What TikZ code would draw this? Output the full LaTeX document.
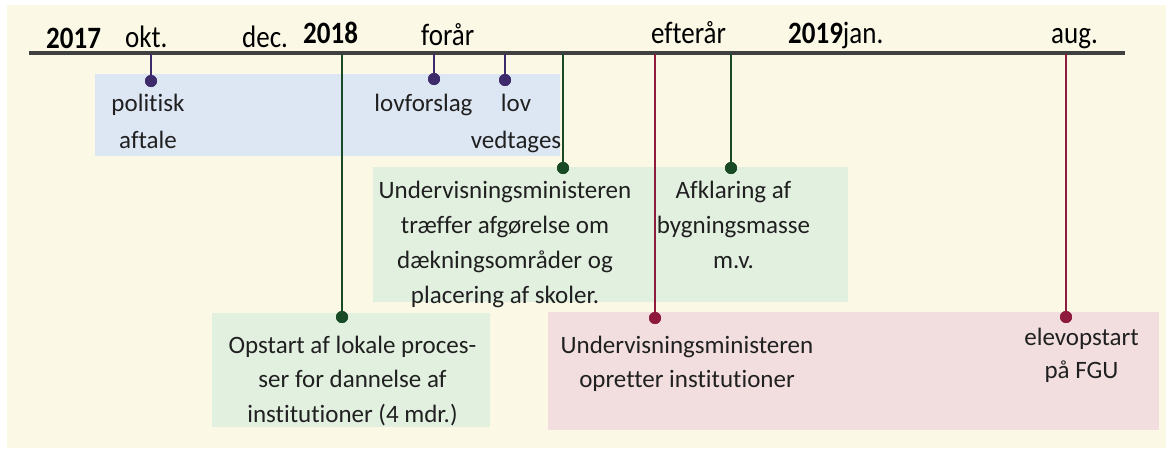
\documentclass[tikz,border=0pt]{standalone}
\usepackage{fontspec}
\setmainfont{Carlito}[Ligatures=NoCommon]
\definecolor{cream}{HTML}{FBF9E6}
\definecolor{bluebg}{HTML}{DDE7F3}
\definecolor{greenbg}{HTML}{E2F0E0}
\definecolor{redbg}{HTML}{F2DEDF}
\definecolor{purp}{HTML}{3D2B6B}
\definecolor{dgreen}{HTML}{174A25}
\definecolor{maroon}{HTML}{8E1B3E}
\definecolor{tline}{HTML}{404040}
\definecolor{txt}{HTML}{202020}
\newcommand{\tallhdr}[1]{\scalebox{1}[1.15]{#1}}
\begin{document}
\begin{tikzpicture}[x=1pt,y=-1pt,
  hdr/.style={anchor=base west, inner sep=0pt, text=black, font=\fontsize{27}{32}\selectfont},
  yr/.style={anchor=base west, inner sep=0pt, text=black, font=\fontsize{27}{32}\selectfont\bfseries},
  body/.style={anchor=base, inner sep=0pt, align=center, text=txt, font=\fontsize{25}{35}\selectfont},
  dotbase/.style={circle, inner sep=0pt, minimum size=12pt},
  dotP/.style={dotbase, fill=purp},
  dotG/.style={dotbase, fill=dgreen},
  dotR/.style={dotbase, fill=maroon},
  tickP/.style={draw=purp, line width=2pt},
  tickG/.style={draw=dgreen, line width=2pt},
  tickR/.style={draw=maroon, line width=2pt},
  timeline/.style={draw=tline, line width=3.5pt},
]
\useasboundingbox (0,0) rectangle (1166,450);
% background
\fill[white] (0,0) rectangle (1166,450);
\fill[cream] (7,5) rectangle (1166,448);
% boxes
\fill[bluebg] (95,74) rectangle (560,156);
\fill[greenbg] (373,167) rectangle (848,302);
\fill[greenbg] (212,313) rectangle (490,427);
\fill[redbg] (548,312) rectangle (1159,430);
% timeline
\coordinate (tl0) at (29,53);
\coordinate (tl1) at (1125,53);
\draw[timeline] (tl0) -- (tl1);
% header labels
\node[yr] (h2017) at (46,48) {\tallhdr{2017}};
\node[hdr] (hokt) at (125,47) {\tallhdr{okt.}};
\node[hdr] (hdec) at (242,47) {\tallhdr{dec.}};
\node[yr] (h2018) at (303,43.5) {\tallhdr{2018}};
\node[hdr] (hforar) at (421,45) {\tallhdr{forår}};
\node[hdr] (hefter) at (651,43.5) {\tallhdr{efterår}};
\node[hdr] (h2019) at (788,43.5) {\tallhdr{\textbf{2019}jan.}};
\node[hdr] (haug) at (1051,43.5) {\tallhdr{aug.}};
% tick anchors on timeline
\coordinate (tA) at (151,54);
\coordinate (tB) at (434,54);
\coordinate (tC) at (505,54);
\coordinate (tD) at (342,54);
\coordinate (tE) at (563,54);
\coordinate (tF) at (731,54);
\coordinate (tG) at (655,54);
\coordinate (tH) at (1066,54);
% dots
\node[dotP] (dA) at (151,81) {};
\node[dotP] (dB) at (434,79) {};
\node[dotP] (dC) at (505,80) {};
\node[dotG] (dD) at (342,317) {};
\node[dotG] (dE) at (563,168) {};
\node[dotG] (dF) at (731,168) {};
\node[dotR] (dG) at (655,318) {};
\node[dotR] (dH) at (1066,317) {};
% connectors
\draw[tickP] (tA) -- (dA.center);
\draw[tickP] (tB) -- (dB.center);
\draw[tickP] (tC) -- (dC.center);
\draw[tickG] (tD) -- (dD.center);
\draw[tickG] (tE) -- (dE.center);
\draw[tickG] (tF) -- (dF.center);
\draw[tickR] (tG) -- (dG.center);
\draw[tickR] (tH) -- (dH.center);
% redraw dots on top
\node[dotP] at (dA) {};
\node[dotP] at (dB) {};
\node[dotP] at (dC) {};
\node[dotG] at (dD) {};
\node[dotG] at (dE) {};
\node[dotG] at (dF) {};
\node[dotR] at (dG) {};
\node[dotR] at (dH) {};
% body texts (anchor = baseline of last line)
\node[body, font=\fontsize{25}{37}\selectfont] (lA) at (148,148) {politisk\\aftale};
\node[body] (lB) at (423.5,111) {lovforslag};
\node[body, font=\fontsize{25}{37}\selectfont] (lC) at (516,148) {lov\\vedtages};
\node[body] (lE) at (505,303) {Undervisningsministeren\\træffer afgørelse om\\dækningsområder og\\placering af skoler.};
\node[body] (lF) at (733.5,268) {Afklaring af\\bygningsmasse\\m.v.};
\node[body, font=\fontsize{25}{34.5}\selectfont] (lD) at (352.5,422) {Opstart af lokale proces-\\ser for dannelse af\\institutioner (4 mdr.)};
\node[body, font=\fontsize{25}{34}\selectfont] (lG) at (687,387) {Undervisningsministeren\\opretter institutioner};
\node[body, font=\fontsize{25}{33}\selectfont] (lH) at (1081.5,378) {elevopstart\\på FGU};
\end{tikzpicture}
\end{document}
